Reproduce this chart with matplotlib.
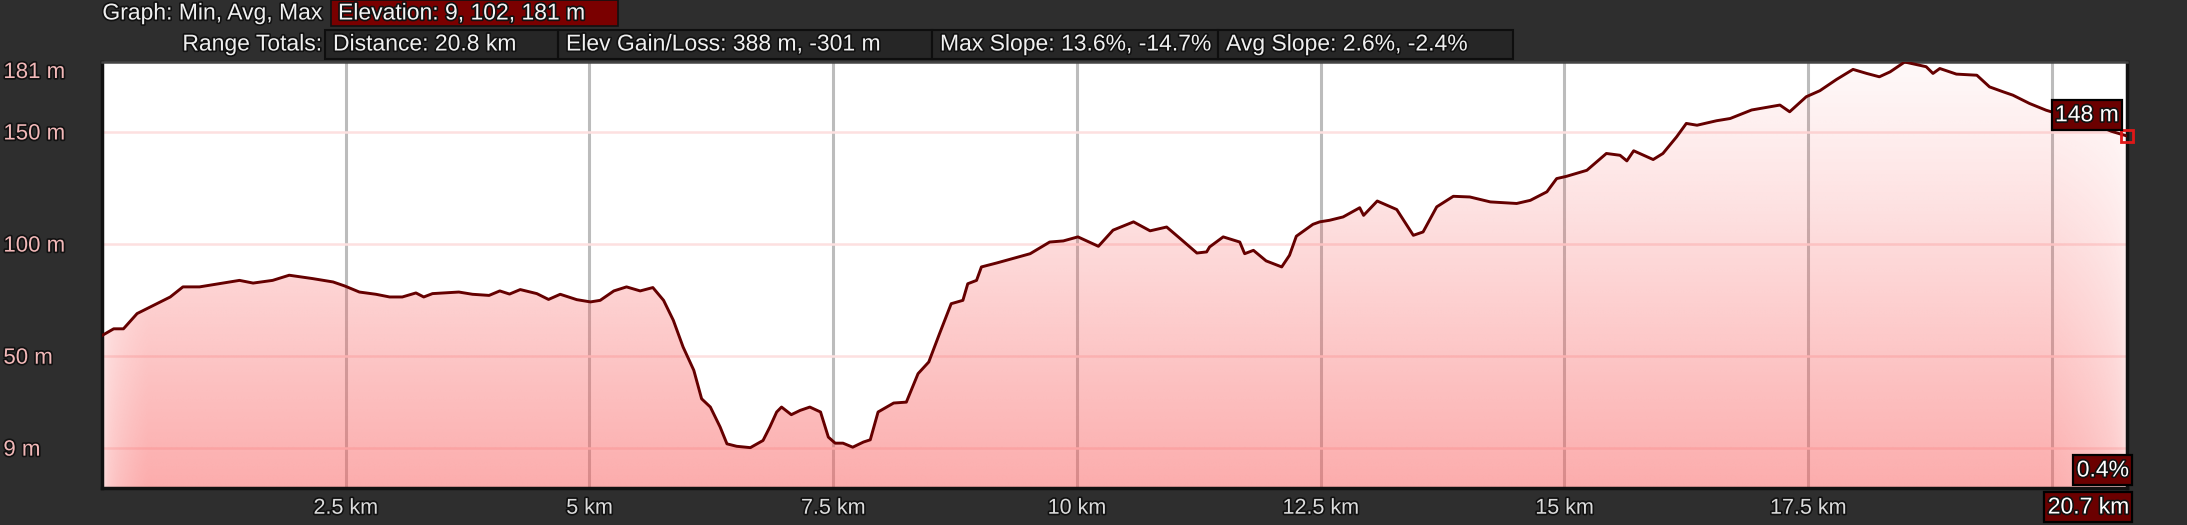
import numpy as np
import matplotlib
matplotlib.use("Agg")
from matplotlib import pyplot as plt
from matplotlib.patches import Rectangle
import matplotlib.patheffects as pe

# elevation profile (km, m)
dist = [0.00, 0.12, 0.22, 0.36, 0.53, 0.70, 0.83, 1.00, 1.20, 1.41, 1.55, 1.75, 1.92,
        2.16, 2.37, 2.49, 2.64, 2.81, 2.95, 3.08, 3.22, 3.30, 3.39, 3.66, 3.80, 3.97,
        4.08, 4.18, 4.29, 4.46, 4.58, 4.70, 4.87, 5.01, 5.11, 5.25, 5.38, 5.52, 5.65,
        5.76, 5.86, 5.96, 6.07, 6.15, 6.24, 6.34, 6.41, 6.51, 6.65, 6.78, 6.85, 6.92,
        6.97, 7.07, 7.16, 7.26, 7.37, 7.45, 7.52, 7.60, 7.70, 7.81, 7.88, 7.96, 8.12,
        8.25, 8.37, 8.48, 8.59, 8.71, 8.83, 8.88, 8.97, 9.02, 9.18, 9.42, 9.52, 9.72,
        9.86, 10.01, 10.22, 10.37, 10.58, 10.75, 10.92, 11.06, 11.23, 11.33, 11.36,
        11.50, 11.67, 11.72, 11.81, 11.94, 12.10, 12.18, 12.25, 12.42, 12.49, 12.59,
        12.73, 12.90, 12.94, 13.08, 13.28, 13.45, 13.55, 13.69, 13.86, 14.03, 14.24,
        14.51, 14.65, 14.82, 14.92, 15.02, 15.23, 15.43, 15.57, 15.64, 15.71, 15.91,
        16.01, 16.15, 16.25, 16.36, 16.56, 16.70, 16.92, 17.21, 17.31, 17.48, 17.62,
        17.79, 17.96, 18.10, 18.23, 18.34, 18.49, 18.71, 18.78, 18.85, 19.02, 19.23,
        19.36, 19.50, 19.60, 19.77, 19.94, 20.20, 20.45, 20.61, 20.77]
elev = [59, 62, 62, 68.8, 72.5, 76.2, 80.7, 80.7, 82.1, 83.6, 82.4, 83.6, 85.9,
        84.4, 82.9, 81.1, 78.4, 77.4, 76.2, 76.2, 78, 76.2, 77.7, 78.4, 77.4, 76.9,
        78.9, 77.5, 79.5, 77.7, 75.1, 77.4, 75, 74, 74.7, 78.9, 80.7, 78.9, 80.4,
        74.7, 65.8, 53.9, 43.5, 30.8, 27.1, 18.2, 10.7, 9.6, 9, 12.2, 18.2, 24.9,
        27.1, 23.7, 25.6, 27.1, 24.9, 13.7, 11.0, 11.0, 9.2, 11.5, 12.5, 24.9, 28.9,
        29.3, 42, 47.2, 59.8, 73.2, 74.7, 82.1, 83.6, 89.6, 91.4, 94.3, 95.5, 100.7,
        101.2, 103, 98.8, 106, 109.7, 105.7, 107.4, 102.2, 95.8, 96.3, 98.5,
        103, 100.7, 95.5, 97, 92.3, 89.6, 94.8, 103.3, 108.6, 109.7, 110.4,
        111.9, 116, 112.6, 119, 115.2, 103.7, 105.2, 116.4, 121.1, 120.8, 118.6,
        117.9, 119.3, 123.1, 129, 130, 132.7, 140.2, 139.4, 136.9, 141.4, 137.5,
        140.2, 147.6, 153.6, 152.8, 154.8, 155.8, 159.6, 161.8, 158.8, 165.5, 168.2,
        173.2, 177.7, 175.9, 174.4, 176.6, 181, 178.9, 175.9, 178.1, 175.6, 175.1,
        169.9, 167.7, 166.2, 162.5, 159.5, 156, 153, 150.1, 148]

ytick_vals = [9, 50, 100, 150, 181]
ytick_labels = ["9 m", "50 m", "100 m", "150 m", "181 m"]
xgrid_vals = [2.5, 5, 7.5, 10, 12.5, 15, 17.5, 20]
# the 20 km label is hidden behind the cursor distance box in the reference
xtick_vals = [2.5, 5, 7.5, 10, 12.5, 15, 17.5]
xtick_labels = ["2.5 km", "5 km", "7.5 km", "10 km", "12.5 km", "15 km", "17.5 km"]

header_row1 = ["Elevation: 9, 102, 181 m"]
header_row2 = ["Distance: 20.8 km", "Elev Gain/Loss: 388 m, -301 m",
               "Max Slope: 13.6%, -14.7%", "Avg Slope: 2.6%, -2.4%"]
cursor_elev = "148 m"
cursor_slope = "0.4%"
cursor_dist = "20.7 km"

W, H = 2187, 525
BG = '#2e2e2e'
plt.rcParams['font.family'] = ['Liberation Sans', 'DejaVu Sans']

fig = plt.figure(figsize=(W / 100, H / 100), dpi=100, facecolor=BG)

def fx(x):
    return x / W

def fy(y):
    return 1 - y / H

shadow = [pe.withStroke(linewidth=2.4, foreground='#111111')]
FS = 16.5

# plot area
L, R, T, B = 102, 2127, 62, 488
ax = fig.add_axes([fx(L), fy(B), fx(R) - fx(L), (B - T) / H])
ax.set_facecolor('white')
xmax = 20.77
ymin, ymax = -9, 181
ax.set_xlim(0, xmax)
ax.set_ylim(ymin, ymax)

# grid under the fill
for v in xgrid_vals:
    ax.axvline(v, color='#bcbcbc', lw=2.2, zorder=1)
for v in ytick_vals[:-1]:
    ax.axhline(v, color='#fde0e0', lw=1.8, zorder=1)

# gradient fill clipped to area under the profile
poly = ax.fill_between(dist, elev, ymin, color='none', lw=0, zorder=2)
nx, ny = 500, 200
xx, yy = np.meshgrid(np.linspace(0, xmax, nx), np.linspace(ymin, ymax, ny))
alpha = 0.04 + 0.46 * ((ymax - yy) / (ymax - ymin)) ** 1.1
edge = np.clip(xx / 0.45, 0, 1) * np.clip((xmax - xx) / 0.8, 0, 1)
edge = 0.45 + 0.55 * np.sqrt(edge)
rgba = np.zeros((ny, nx, 4))
rgba[..., 0] = 249 / 255
rgba[..., 1] = 89 / 255
rgba[..., 2] = 89 / 255
rgba[..., 3] = alpha * edge
im = ax.imshow(rgba, extent=[0, xmax, ymin, ymax], origin='lower', aspect='auto',
               zorder=2, interpolation='bilinear')
im.set_clip_path(poly.get_paths()[0], transform=ax.transData)

ax.plot(dist, elev, color='#650000', lw=2.1, zorder=3, solid_joinstyle='round')
ax.plot(dist[-1], elev[-1], marker='s', ms=8, mfc='none', mec='#e01818', mew=2,
        zorder=5, clip_on=False)

for s in ax.spines.values():
    s.set_color('#111111')
    s.set_linewidth(2.5)
ax.spines['top'].set_color('#444444')
ax.spines['top'].set_linewidth(1.8)

ax.set_yticks(ytick_vals)
ax.set_yticklabels(ytick_labels, ha='left')
ax.tick_params(axis='y', length=0, pad=71, labelsize=16, labelcolor='#f2b8b8')
ax.get_yticklabels()[-1].set_va('top')
ax.set_xticks(xtick_vals)
ax.set_xticklabels(xtick_labels)
ax.tick_params(axis='x', length=0, pad=7, labelsize=15.5, labelcolor='#dcdcdc')
for lab in ax.get_yticklabels() + ax.get_xticklabels():
    lab.set_path_effects(shadow)

# cursor readouts
box = dict(boxstyle='square,pad=0.15', fc='#6b0000', ec='black', lw=1.6)
ax.annotate(cursor_elev, (dist[-1], elev[-1]), xytext=(-6, 7), textcoords='offset points',
            ha='right', va='bottom', fontsize=FS, color='white', bbox=box, zorder=6,
            path_effects=shadow, annotation_clip=False)
fig.text(fx(2129), fy(470), cursor_slope, ha='right', va='center', fontsize=FS,
         color='white', bbox=box, path_effects=shadow)
fig.text(fx(2129), fy(507), cursor_dist, ha='right', va='center', fontsize=FS,
         color='white', bbox=box, path_effects=shadow)

# header
fig.text(fx(322), fy(13), "Graph: Min, Avg, Max", ha='right', va='center', fontsize=FS,
         color='#f0f0f0', path_effects=shadow)
fig.patches.append(Rectangle((fx(331), fy(26)), fx(618) - fx(331), 26 / H,
                             transform=fig.transFigure, fc='#7a0000', ec='#111111', lw=1.2))
fig.text(fx(338), fy(13), header_row1[0], ha='left', va='center', fontsize=FS,
         color='#f4f4f4', path_effects=shadow)

fig.text(fx(322), fy(44), "Range Totals:", ha='right', va='center', fontsize=FS,
         color='#f0f0f0', path_effects=shadow)
edges = [325, 558, 932, 1218, 1513]
for i, txt in enumerate(header_row2):
    fig.patches.append(Rectangle((fx(edges[i]), fy(59)), fx(edges[i + 1]) - fx(edges[i]),
                                 29 / H, transform=fig.transFigure, fc='#262626',
                                 ec='#0e0e0e', lw=1.5))
    fig.text(fx(edges[i] + 8), fy(44), txt, ha='left', va='center', fontsize=FS,
             color='#f0f0f0', path_effects=shadow)

fig.savefig("out.png", dpi=100, facecolor=BG)
